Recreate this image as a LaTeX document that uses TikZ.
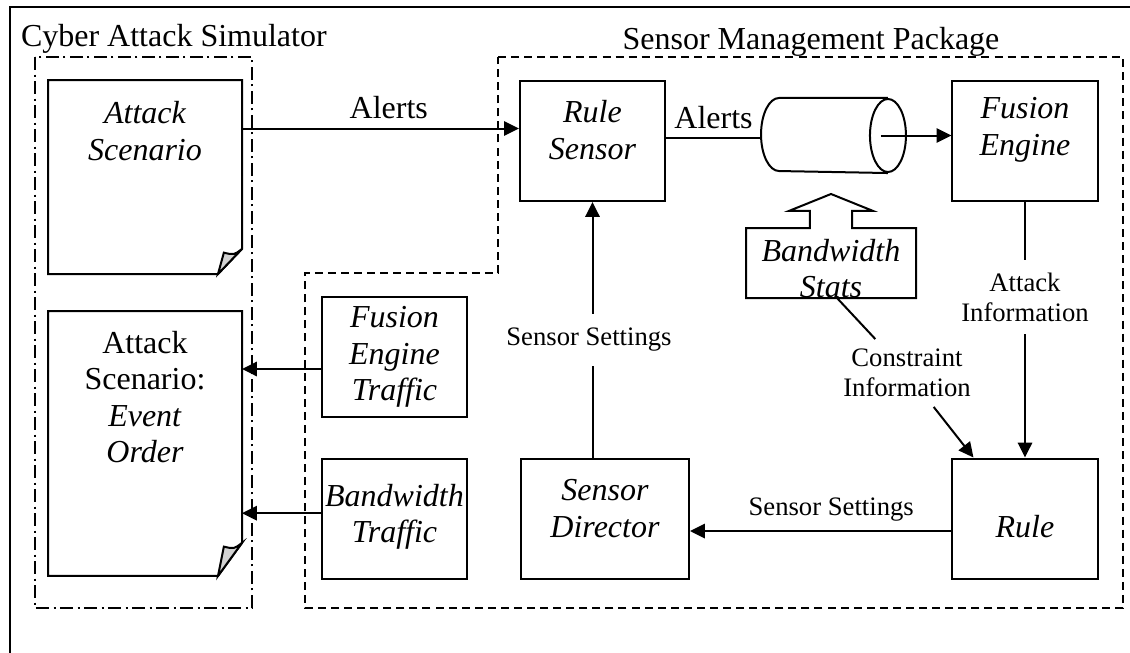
\documentclass[tikz,border=0pt]{standalone}
\usepackage{fontspec}
\setmainfont{Liberation Serif}
\usetikzlibrary{arrows.meta, calc}

% sheet with a dog-eared corner, drawn round an (undrawn) node
\newcommand{\dogear}[2]{%
  \draw (#1.north west) -- (#1.north east) -- ([yshift=#2]#1.south east)
     -- ([xshift=-9pt]#1.south east) -- (#1.south west) -- cycle;
  \filldraw[fill=gray!35] ([xshift=-9pt]#1.south east) -- ([yshift=#2]#1.south east)
     .. controls ([shift={(-3pt,#2-2.3pt)}]#1.south east)
     .. ([shift={(-6.8pt,#2-1.4pt)}]#1.south east) -- cycle;
}

\begin{document}
\begin{tikzpicture}[
            x = 0.375pt, y = -0.375pt, % pixel grid of the original
            > = {Triangle[length=5.6pt, width=5.4pt]}, % arrow head style
            line width = 0.75pt
        ]

        \tikzstyle{box}=[draw, rectangle, inner sep=0pt,
            minimum width=54.4pt, minimum height=45pt]
        \tikzstyle{widebox}=[box, minimum width=63pt]
        \tikzstyle{sheet}=[rectangle, inner sep=0pt, minimum width=72pt]
        \tikzstyle{boxtext}=[align=center, inner sep=0pt,
            font=\fontsize{12}{13.7}\selectfont\itshape]
        \tikzstyle{bigtext}=[align=center, font=\fontsize{12}{13.7}\selectfont]
        \tikzstyle{smalltext}=[align=center, font=\fontsize{10}{11.3}\selectfont]
        \tikzstyle{title}=[inner sep=0pt, font=\fontsize{12}{13.7}\selectfont]

        \useasboundingbox (0,0) rectangle (1130,653);

        % frame and the two packages
        \draw (1130,7) -- (10,7) -- (10,653);
        \draw[dash pattern=on 5pt off 1.6pt on 0.8pt off 1.6pt] (35,57) rectangle (252,608);
        \draw[dash pattern=on 3pt off 1.9pt] (498,57) -- (1123,57) -- (1123,608)
            -- (305,608) -- (305,273) -- (498,273) -- cycle;
        \node[title, anchor=base west] at (20,47) {Cyber Attack Simulator};
        \node[title, anchor=base] at (811,50) {Sensor Management Package};

        % simulator side
        \node (scen) [sheet, minimum height=72pt] at (145,177) {};
        \dogear{scen}{9.4pt}
        \node[boxtext] at ([yshift=17.25pt]scen) {Attack\\Scenario};
        \node (evt) [sheet, minimum height=98.6pt] at (145,443.5) {};
        \dogear{evt}{12.4pt}
        \node[bigtext, inner sep=0pt] at ([yshift=17.4pt]evt)
            {Attack\\Scenario:\\\textit{Event}\\\textit{Order}};

        % sensor management side
        \node (rsens) [box] at (592.5,141) {};
        \node[boxtext] at ([yshift=4.1pt]rsens) {Rule\\Sensor};
        \node (fus) [box] at (1025,141) {};
        \node[boxtext] at ([yshift=4.1pt]fus) {Fusion\\Engine};
        \node (fet) [box] at (394.5,357) {};
        \node[boxtext] at (fet) {Fusion\\Engine\\Traffic};
        \node (bwt) [box] at (394.5,518.5) {};
        \node[boxtext] at ([yshift=0.7pt]bwt) {Bandwidth\\Traffic};
        \node (sdir) [widebox] at (605,518.5) {};
        \node[boxtext] at ([yshift=3.75pt]sdir) {Sensor\\Director};
        \node (rule) [box] at (1025,518.5) {};
        \node[boxtext] at ([yshift=-3.2pt]rule) {Rule};

        % alert queue
        \node (queue) [rectangle, inner sep=0pt, minimum width=53.6pt,
            minimum height=27.4pt] at (833.5,135.5) {};
        \draw ([xshift=-6.75pt]queue.north east) -- ([xshift=6.75pt]queue.north west)
            arc[start angle=90, end angle=270, x radius=6.75pt, y radius=13.7pt]
            -- ([xshift=-6.75pt]queue.south east);
        \draw ([xshift=-6.75pt]queue.east) ellipse [x radius=6.75pt, y radius=13.7pt];

        % bandwidth stats callout pointing up at the queue
        \node (bws) [rectangle, inner sep=0pt, minimum width=63pt,
            minimum height=25.5pt] at (831,263) {};
        \draw (bws.south west) -- (bws.north west) -- ([xshift=-7.9pt]bws.north)
            -- ++(0pt,6.4pt) -- ++(-7.85pt,0pt) -- ([yshift=12.75pt]bws.north)
            -- ([shift={(15.75pt,6.4pt)}]bws.north) -- ++(-7.85pt,0pt)
            -- ([xshift=7.9pt]bws.north) -- (bws.north east) -- (bws.south east) -- cycle;
        \node[boxtext] at ([yshift=-2pt]bws) {Bandwidth\\Stats};

        % labels on the flows
        \node (cinfo) [smalltext] at (907,373) {Constraint\\Information};
        \node (ainfo) [smalltext, inner sep=4.5pt] at (1025,297) {Attack\\Information};
        \node (ssets) [smalltext, inner sep=5pt] at (589,340) {Sensor Settings};

        % flows
        \draw[->] ($(scen.north east)!.25!(scen.south east)$) coordinate (a1)
            -- (a1 -| rsens.west) node[bigtext, pos=0.53, above] {Alerts};
        \draw ([yshift=1pt]rsens.east) coordinate (a2)
            -- (a2 -| queue.west) node[bigtext, midway, above] {Alerts};
        \draw[->] ([xshift=-9.4pt]queue.east) -- (queue.east -| fus.west);
        \draw (fus) -- (ainfo);
        \draw[->] (ainfo) -- (rule);
        \draw ([xshift=2.25pt]bws.south) -- (cinfo);
        \draw[->] (cinfo) -- ([xshift=8.25pt]rule.north west);
        \draw[->] ([yshift=-4.7pt]rule.west) coordinate (a3)
            -- (a3 -| sdir.east) node[smalltext, pos=0.46, above] {Sensor Settings};
        \draw (sdir.north -| rsens.south) -- (ssets.south -| rsens.south);
        \draw[->] (ssets.north -| rsens.south) -- (rsens.south);
        \draw[->] ([yshift=-4.5pt]fet.west) coordinate (a4) -- (a4 -| evt.east);
        \draw[->] ([yshift=2pt]bwt.west) coordinate (a5) -- (a5 -| evt.east);

    \end{tikzpicture}
\end{document}
